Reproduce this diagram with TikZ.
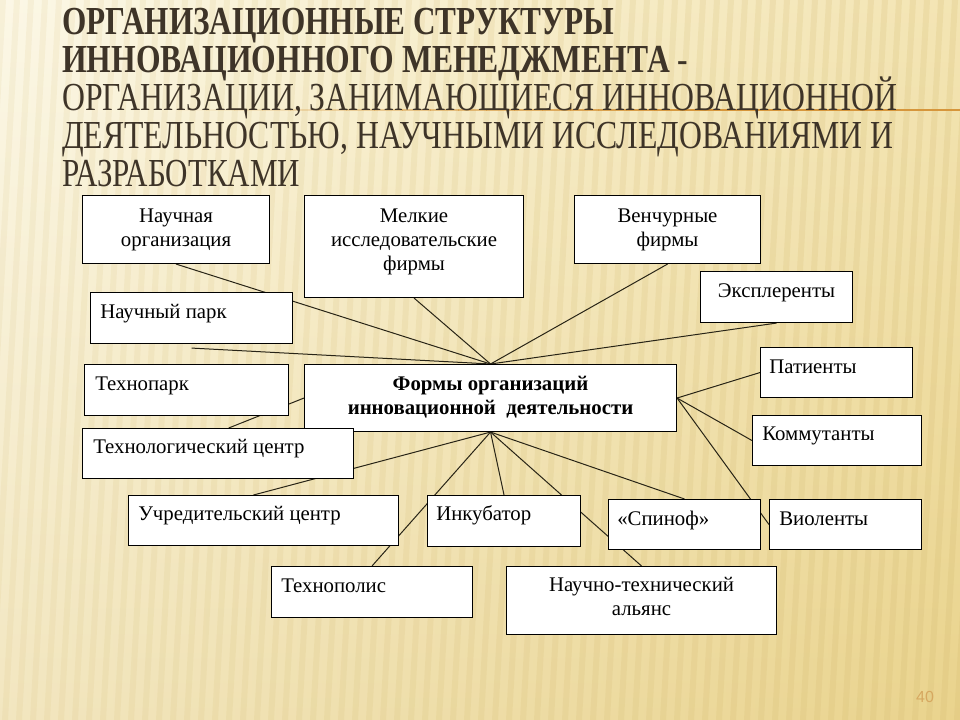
\documentclass[tikz,border=0pt]{standalone}
\usepackage{fontspec}
\setmainfont{Liberation Serif}
\newfontfamily\numfont{Liberation Sans}
\usepackage{graphicx}
\pgfdeclarelayer{back}
\pgfdeclarelayer{lines}
\pgfsetlayers{back,lines,main}
\newdimen\pxu \pxu=0.75pt
\newcommand\ttline[3]{\resizebox{#1\pxu}{#2\pxu}{\raisebox{0pt}[\fontcharht\font`Н][0pt]{#3}}}
\definecolor{bgTop}{RGB}{250,243,214}
\definecolor{bgBot}{RGB}{234,214,150}
\definecolor{bgGold}{RGB}{234,208,128}
\definecolor{stripecol}{RGB}{210,184,110}
\definecolor{titlecol}{RGB}{62,52,40}
\definecolor{linecol}{RGB}{40,36,22}
\definecolor{orangeline}{RGB}{214,150,60}
\definecolor{numcol}{RGB}{214,168,96}
\begin{document}
\begin{tikzpicture}[x=0.75pt,y=-0.75pt,
  bx/.style 2 args={draw=black, fill=white, line width=0.8pt, inner sep=0pt,
    anchor=north west, minimum width=#1*0.75pt, minimum height=#2*0.75pt},
  txt/.style={font=\fontsize{15.6}{18}\selectfont, inner sep=0pt, text=black},
  conn/.style={draw=linecol, line width=0.75pt},
  ttl/.style={inner sep=0pt, anchor=base west, text=titlecol}]
\useasboundingbox (0,0) rectangle (960,720);
% background
\begin{pgfonlayer}{back}
\shade[top color=bgTop, bottom color=bgBot] (0,0) rectangle (960,720);
\shade[left color=white, right color=bgGold, opacity=0.4] (0,0) rectangle (960,720);
\foreach \i in {0,...,72}{
  \fill[stripecol, opacity=0.11+0.1*\i/72] (\i*14,0) -- ++(6,0) -- ++(-40,720) -- ++(-6,0) -- cycle;
}
\foreach \i in {0,...,19}{
  \draw[orangeline, line width=0.9pt, opacity=\i/19] (150+\i*28,110) -- ++(28.5,0);
}
\draw[orangeline, line width=0.9pt] (710,110) -- (960,110);
\end{pgfonlayer}
% title
\node[ttl, font=\fontsize{30}{36}\selectfont\bfseries] (t1) at (62,35)
  {\ttline{552}{26}{ОРГАНИЗАЦИОННЫЕ СТРУКТУРЫ}};
\node[ttl, font=\fontsize{30}{36}\selectfont\bfseries] (t2) at (62,73)
  {\ttline{626}{26}{ИННОВАЦИОННОГО МЕНЕДЖМЕНТА {\mdseries -}}};
\node[ttl, font=\fontsize{30}{36}\selectfont] (t3) at (62,111)
  {\ttline{835}{26}{ОРГАНИЗАЦИИ, ЗАНИМАЮЩИЕСЯ ИННОВАЦИОННОЙ}};
\node[ttl, font=\fontsize{30}{36}\selectfont] (t4) at (62,149)
  {\ttline{831}{26}{ДЕЯТЕЛЬНОСТЬЮ, НАУЧНЫМИ ИССЛЕДОВАНИЯМИ И}};
\node[ttl, font=\fontsize{30}{36}\selectfont] (t5) at (62,187)
  {\ttline{238}{26}{РАЗРАБОТКАМИ}};
% boxes
\node[bx={187}{68}] (nauch) at (82,195) {};
\node[bx={219}{102}] (melk) at (304,195) {};
\node[bx={186}{68}] (vench) at (574,195) {};
\node[bx={152}{51}] (expl) at (700,271) {};
\node[bx={202}{51}] (park) at (90,292) {};
\node[bx={204}{51}] (tpark) at (84,364) {};
\node[bx={372}{67}] (central) at (304,364) {};
\node[bx={271}{50}] (tcentr) at (82,428) {};
\node[bx={152}{50}] (pat) at (760,347) {};
\node[bx={169}{50}] (komm) at (752,415) {};
\node[bx={270}{50}] (uchr) at (128,495) {};
\node[bx={153}{51}] (inkub) at (427,495) {};
\node[bx={152}{50}] (spin) at (608,499) {};
\node[bx={152}{50}] (viol) at (769,499) {};
\node[bx={201}{51}] (tpolis) at (271,566) {};
\node[bx={270}{68}] (ntal) at (506,566) {};
% texts
\node[txt, align=center] (l-nauch) at (nauch.center) {\strut Научная\\\strut организация};
\node[txt, align=center] (l-melk) at ([yshift=3.5pt]melk.center) {\strut Мелкие\\исследовательские\\\strut фирмы};
\node[txt, align=center] (l-vench) at (vench.center) {\strut Венчурные\\\strut фирмы};
\node[txt, anchor=base] (l-expl) at ([yshift=-19.5pt]expl.north) {Эксплеренты};
\node[txt, anchor=base west] (l-park) at ([shift={(10,26)}]park.north west) {Научный парк};
\node[txt, anchor=base west] (l-tpark) at ([shift={(11,26)}]tpark.north west) {Технопарк};
\node[txt, font=\fontsize{15.6}{18}\selectfont\bfseries, align=center] (l-central) at (central.center)
  {\strut Формы организаций\\\strut инновационной\ \ деятельности};
\node[txt, anchor=base west] (l-tcentr) at ([shift={(11,25)}]tcentr.north west) {Технологический центр};
\node[txt, anchor=base west] (l-pat) at ([shift={(9,26)}]pat.north west) {Патиенты};
\node[txt, anchor=base west] (l-komm) at ([shift={(10,25)}]komm.north west) {Коммутанты};
\node[txt, anchor=base west] (l-uchr) at ([shift={(10,25)}]uchr.north west) {Учредительский центр};
\node[txt, anchor=base west] (l-inkub) at ([shift={(9,25)}]inkub.north west) {Инкубатор};
\node[txt, anchor=base west] (l-spin) at ([shift={(9,26)}]spin.north west) {«Спиноф»};
\node[txt, anchor=base west] (l-viol) at ([shift={(10,26)}]viol.north west) {Виоленты};
\node[txt, anchor=base west] (l-tpolis) at ([shift={(10,26)}]tpolis.north west) {Технополис};
\node[txt, align=center] (l-ntal) at ([yshift=1.5pt]ntal.center) {\strut Научно-технический\\\strut альянс};
% page number
\node[font=\numfont\fontsize{12}{14}\selectfont, text=numcol, inner sep=0pt] (pnum) at (925,697) {40};
% connectors
\begin{pgfonlayer}{lines}
\draw[conn] (central.north) -- (nauch.south);
\draw[conn] (central.north) -- ([yshift=-3pt]park.south);
\draw[conn] (central.north) -- (melk.south);
\draw[conn] (central.north) -- (vench.south);
\draw[conn] (central.north) -- (expl.south);
\draw[conn] (central.west) -- ([xshift=8pt]tcentr.north);
\draw[conn] (central.south) -- ([xshift=-7.5pt]uchr.north);
\draw[conn] (central.south) -- (tpolis.north);
\draw[conn] (central.south) -- (inkub.north);
\draw[conn] (central.south) -- (ntal.north);
\draw[conn] (central.south) -- (spin.north);
\draw[conn] (central.east) -- (pat.west);
\draw[conn] (central.east) -- (komm.west);
\draw[conn] (central.east) -- (viol.west);
\end{pgfonlayer}
\end{tikzpicture}
\end{document}
